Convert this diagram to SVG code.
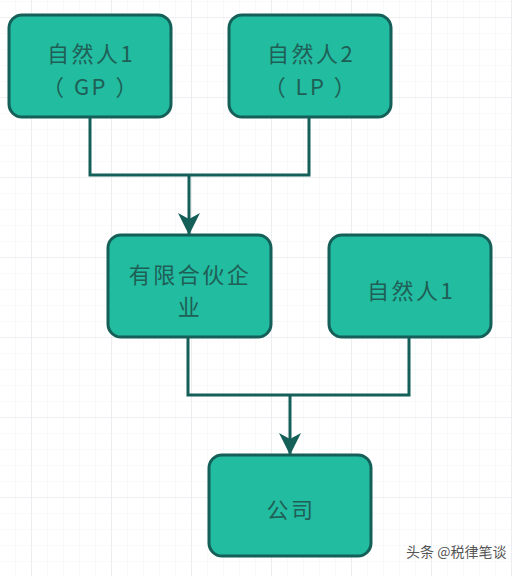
<svg xmlns="http://www.w3.org/2000/svg" width="512" height="576" viewBox="0 0 512 576">
<style>
.box{fill:#22bca0;stroke:#145f58;stroke-width:3}
.lbl{font-family:"Noto Sans CJK SC","Noto Sans",sans-serif;font-size:22px;letter-spacing:2.5px;fill:#1f5f56;text-anchor:middle}
.conn{fill:none;stroke:#145f58;stroke-width:3}
.wm{font-family:"Noto Sans CJK SC","Noto Sans",sans-serif;font-size:14px;fill:#555}
</style>
<defs>
<pattern id="minor" x="15" y="1" width="16" height="16" patternUnits="userSpaceOnUse">
<path d="M0 0V16M0 0H16" fill="none" stroke="#f1f4f6" stroke-width="1"/>
</pattern>
<pattern id="major" x="31" y="17" width="80" height="80" patternUnits="userSpaceOnUse">
<path d="M0 0V80M0 0H80" fill="none" stroke="#e2e6ea" stroke-width="1.2"/>
</pattern>
<marker id="arr" viewBox="0 0 22 22" refX="21" refY="11" markerWidth="22" markerHeight="22" markerUnits="userSpaceOnUse" orient="auto">
<path d="M0 0L22 11L0 22L6 11Z" fill="#145f58"/>
</marker>
</defs>
<rect width="512" height="576" fill="#ffffff"/>
<rect width="512" height="576" fill="url(#minor)"/>
<rect width="512" height="576" fill="url(#major)"/>
<g id="connectors">
<path class="conn" d="M90 117V175H309V117"/>
<path class="conn" d="M189 175V234" marker-end="url(#arr)"/>
<path class="conn" d="M188 337V395H409V337"/>
<path class="conn" d="M290 395V454" marker-end="url(#arr)"/>
</g>
<g id="node-gp">
<rect class="box" x="9" y="15" width="162" height="102" rx="13"/>
<text class="lbl" x="91" y="62">自然人1</text>
<text class="lbl" x="91" y="95">（ GP ）</text>
</g>
<g id="node-lp">
<rect class="box" x="229" y="15" width="162" height="102" rx="13"/>
<text class="lbl" x="311" y="62">自然人2</text>
<text class="lbl" x="311" y="95">（ LP ）</text>
</g>
<g id="node-partnership">
<rect class="box" x="108" y="235" width="163" height="102" rx="13"/>
<text class="lbl" x="190" y="283">有限合伙企</text>
<text class="lbl" x="190" y="315">业</text>
</g>
<g id="node-person1">
<rect class="box" x="329" y="235" width="162" height="102" rx="13"/>
<text class="lbl" x="411" y="299">自然人1</text>
</g>
<g id="node-company">
<rect class="box" x="209" y="455" width="162" height="101" rx="13"/>
<text class="lbl" x="291" y="518">公司</text>
</g>
<text class="wm" x="406" y="557">头条 @税律笔谈</text>
</svg>
